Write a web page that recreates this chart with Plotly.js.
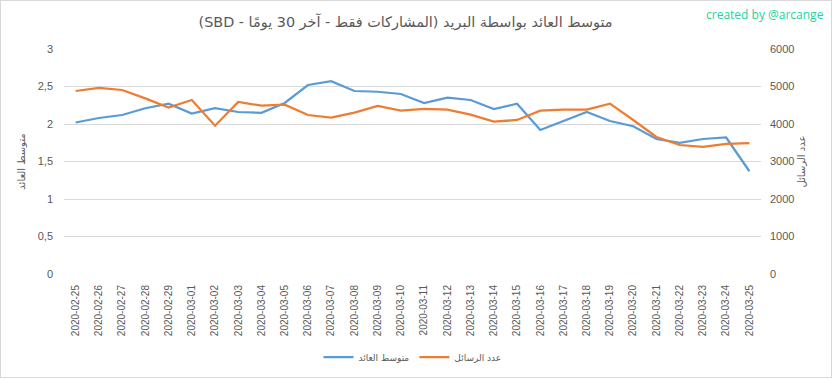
<!DOCTYPE html>
<html>
<head>
<meta charset="utf-8">
<script src="https://cdn.plot.ly/plotly-3.0.1.min.js"></script>
<style>
  html, body { margin: 0; padding: 0; background: #ffffff; }
  #frame { width: 830px; height: 376px; border: 1px solid #D9D9D9; }
  #chart { width: 830px; height: 376px; }
</style>
</head>
<body>
<div id="frame"><div id="chart"></div></div>
<script>
const dates = ["2020-02-25","2020-02-26","2020-02-27","2020-02-28","2020-02-29",
  "2020-03-01","2020-03-02","2020-03-03","2020-03-04","2020-03-05","2020-03-06",
  "2020-03-07","2020-03-08","2020-03-09","2020-03-10","2020-03-11","2020-03-12",
  "2020-03-13","2020-03-14","2020-03-15","2020-03-16","2020-03-17","2020-03-18",
  "2020-03-19","2020-03-20","2020-03-21","2020-03-22","2020-03-23","2020-03-24",
  "2020-03-25"];
const avgReward = [2.02, 2.08, 2.12, 2.21, 2.27, 2.14, 2.21, 2.16, 2.15, 2.28,
  2.52, 2.57, 2.44, 2.43, 2.40, 2.28, 2.35, 2.32, 2.20, 2.27,
  1.92, 2.04, 2.16, 2.04, 1.97, 1.80, 1.75, 1.80, 1.82, 1.37];
const postCount = [4880, 4960, 4907, 4684, 4436, 4640, 3955, 4587, 4489, 4516,
  4240, 4169, 4302, 4480, 4356, 4400, 4382, 4249, 4062, 4107,
  4356, 4382, 4382, 4542, 4107, 3653, 3440, 3387, 3467, 3493];
const leftTicks = [0, 0.5, 1, 1.5, 2, 2.5, 3];
const rightTicks = [0, 1000, 2000, 3000, 4000, 5000, 6000];

const seriesNames = ["متوسط العائد", "عدد الرسائل"];
const titleText = "متوسط العائد بواسطة البريد (المشاركات فقط - آخر 30 يومًا - SBD)";

const FONT = "Liberation Sans, Arial, DejaVu Sans, sans-serif";
const GRAY = "#595959";

const traces = [
  { x: dates, y: avgReward, name: seriesNames[0], type: "scatter", mode: "lines",
    line: { color: "#5B9BD5", width: 2.25 }, yaxis: "y" },
  { x: dates, y: postCount, name: seriesNames[1], type: "scatter", mode: "lines",
    line: { color: "#ED7D31", width: 2.25 }, yaxis: "y2" }
];

const layout = {
  width: 830, height: 376,
  margin: { l: 63, r: 70, t: 48, b: 103, autoexpand: false },
  paper_bgcolor: "#ffffff", plot_bgcolor: "#ffffff",
  separators: ", ",
  font: { family: FONT, size: 11, color: GRAY },
  title: { text: "\u202B" + titleText + "\u202C", font: { family: "DejaVu Sans, sans-serif", size: 14.4, color: GRAY },
    x: 0.49, xref: "paper", xanchor: "center", y: 1 - 21/376, yref: "container", yanchor: "middle" },
  xaxis: { type: "category", tickangle: -90, tickfont: { size: 10, color: GRAY }, automargin: false,
    showgrid: false, zeroline: false, showline: false, ticks: "", ticklabelstandoff: 8,
    range: [-0.5, dates.length - 0.5] },
  yaxis: { range: [0, 3], tickvals: leftTicks, showgrid: true, gridcolor: "#D9D9D9", gridwidth: 1,
    zeroline: false, showline: false, ticks: "", ticklabelstandoff: 10, automargin: false,
    tickfont: { size: 11, color: GRAY },
    title: { text: seriesNames[0], font: { family: "DejaVu Sans, sans-serif", size: 10, color: GRAY }, standoff: 10 } },
  yaxis2: { range: [0, 6000], tickvals: rightTicks, overlaying: "y", side: "right",
    showgrid: false, zeroline: false, showline: false, ticks: "", ticklabelstandoff: 8, automargin: false,
    tickfont: { size: 11, color: GRAY },
    title: { text: seriesNames[1], font: { family: "DejaVu Sans, sans-serif", size: 10, color: GRAY }, standoff: 4 } },
  showlegend: true,
  legend: { orientation: "h", x: 0.5, xanchor: "center", y: 1 - 356 / 376, yref: "container", yanchor: "middle",
    font: { family: "DejaVu Sans, sans-serif", size: 9, color: GRAY }, bgcolor: "rgba(0,0,0,0)" },
  annotations: [
    { text: "created by @arcange", xref: "paper", yref: "paper", showarrow: false,
      x: (765 - 64) / 697, y: 1 + (48 - 14) / 225, xanchor: "center", yanchor: "middle",
      font: { family: "Open Sans, sans-serif", size: 12, color: "#22D3A0" } }
  ]
};

Plotly.newPlot("chart", traces, layout, { displayModeBar: false, staticPlot: true });
</script>
</body>
</html>
